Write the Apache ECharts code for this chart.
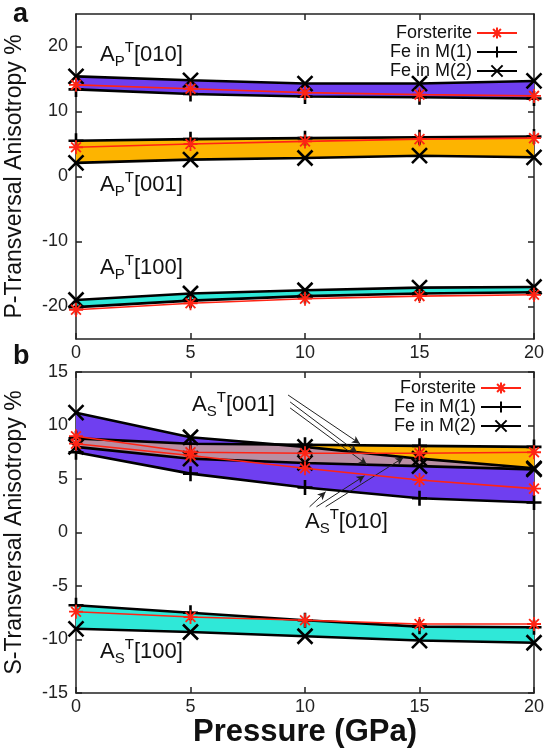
<!DOCTYPE html>
<html><head><meta charset="utf-8">
<script src="https://cdn.jsdelivr.net/npm/echarts@6/dist/echarts.min.js"></script>
<style>html,body{margin:0;padding:0;background:#fff}#c{width:548px;height:754px}</style>
</head><body><div id="c"></div>
<script>
const pressure = [0, 5, 10, 15, 20];
const xTicks = [0, 5, 10, 15, 20];
const yTicksA = [-20, -10, 0, 10, 20];
const yTicksB = [-15, -10, -5, 0, 5, 10, 15];

// Panel a: P-transversal anisotropy
const pA010_fo = [14.1, 13.5, 12.9, 12.6, 12.4];
const pA010_m1 = [13.4, 12.7, 12.3, 12.2, 12.0];
const pA010_m2 = [15.4, 14.8, 14.3, 14.3, 14.7];
const pA001_fo = [4.5, 5.0, 5.4, 5.75, 5.9];
const pA001_m1 = [5.5, 5.75, 5.9, 6.05, 6.15];
const pA001_m2 = [2.1, 2.6, 2.85, 3.2, 2.95];
const pA100_fo = [-20.5, -19.5, -18.8, -18.4, -18.2];
const pA100_m1 = [-20.1, -19.1, -18.4, -18.0, -17.8];
const pA100_m2 = [-19.0, -18.0, -17.5, -17.1, -17.0];

// Panel b: S-transversal anisotropy
const sA001_fo = [9.0, 7.5, 7.4, 7.4, 7.5];
const sA001_m1 = [8.8, 8.3, 8.2, 8.1, 8.0];
const sA001_m2 = [8.0, 6.9, 6.5, 6.2, 5.9];
const sA010_fo = [8.3, 7.2, 6.0, 4.9, 4.1];
const sA010_m1 = [7.5, 5.5, 4.2, 3.2, 2.8];
const sA010_m2 = [11.2, 8.9, 8.0, 6.9, 6.0];
const sA100_fo = [-7.4, -7.9, -8.2, -8.55, -8.55];
const sA100_m1 = [-6.8, -7.5, -8.2, -8.8, -8.85];
const sA100_m2 = [-9.0, -9.3, -9.7, -10.1, -10.3];

// annotation labels [x, y, subscript, direction]
const labelsA = [[1.05, 18.7, 'P', '[010]'], [1.05, -1.3, 'P', '[001]'], [1.05, -14.1, 'P', '[100]']];
const labelsB = [[5.07, 11.9, 'S', '[001]'], [10.0, 1.0, 'S', '[010]'], [1.05, -11.2, 'S', '[100]']];
// arrows (data coordinates)
const arrowsFrom = [[9.26, 12.85], [9.35, 12.2], [9.35, 11.64], [10.2, 2.4], [10.5, 2.4], [10.9, 2.4]];
const arrowsTo = [[12.4, 8.3], [12.27, 7.5], [12.7, 6.35], [10.9, 3.8], [12.6, 5.3], [14.3, 7.0]];

const FONT = 'Liberation Sans, Arial, Helvetica, sans-serif';
const PURPLE = '#6f3ff0', ORANGE = '#fdb400', CYAN = '#2fe8d8', MAUVE = '#b98ea2';
const RED = '#ff2414', BLACK = '#000';
const SYM_PLUS = 'path://M5,0L5,10M0,5L10,5';
const SYM_CROSS = 'path://M0,0L10,10M10,0L0,10';
const SYM_STAR = 'path://M5,0L5,10M0,5L10,5M1.5,1.5L8.5,8.5M8.5,1.5L1.5,8.5';

function band(gi, upper, lower, color, z) {
  return {
    type: 'custom', xAxisIndex: gi * 2, yAxisIndex: gi * 2, silent: true, z: z || 1,
    data: [[pressure[0], lower[0]]],
    renderItem(params, api) {
      const pts = [];
      pressure.forEach((p, i) => pts.push(api.coord([p, upper[i]])));
      for (let i = pressure.length - 1; i >= 0; i--) pts.push(api.coord([pressure[i], lower[i]]));
      return { type: 'polygon', shape: { points: pts }, style: { fill: color, stroke: 'none' } };
    }
  };
}
function overlap(gi, u1, u2, lo, color) {
  return {
    type: 'custom', xAxisIndex: gi * 2, yAxisIndex: gi * 2, silent: true, z: 2,
    data: [[pressure[0], lo[0]]],
    renderItem(params, api) {
      const top = [];
      for (let i = 0; i < pressure.length; i++) {
        top.push([pressure[i], Math.min(u1[i], u2[i])]);
        if (i < pressure.length - 1) {
          const d0 = u1[i] - u2[i], d1 = u1[i + 1] - u2[i + 1];
          if (d0 * d1 < 0) {
            const t = d0 / (d0 - d1);
            top.push([pressure[i] + t * (pressure[i + 1] - pressure[i]), u1[i] + t * (u1[i + 1] - u1[i])]);
          }
        }
      }
      const pts = top.map(p => api.coord(p));
      for (let i = pressure.length - 1; i >= 0; i--) pts.push(api.coord([pressure[i], lo[i]]));
      return { type: 'polygon', shape: { points: pts }, style: { fill: color, stroke: 'none' } };
    }
  };
}
function line(gi, name, vals) {
  const isFo = name === 'Forsterite';
  const col = isFo ? RED : BLACK;
  return {
    type: 'line', name, xAxisIndex: gi * 2, yAxisIndex: gi * 2,
    data: pressure.map((p, i) => [p, vals[i]]),
    symbol: isFo ? SYM_STAR : (name === 'Fe in M(1)' ? SYM_PLUS : SYM_CROSS),
    symbolSize: isFo ? 14 : 15, showAllSymbol: true,
    lineStyle: { color: col, width: isFo ? 1.6 : 2.6 },
    itemStyle: { color: col, borderColor: col, borderWidth: isFo ? 1.8 : 2.6 },
    z: isFo ? 5 : 4, silent: true, emphasis: { disabled: true }
  };
}
function labels(gi, arr) {
  return {
    type: 'scatter', xAxisIndex: gi * 2, yAxisIndex: gi * 2, silent: true, z: 6,
    symbol: 'circle', symbolSize: 0, itemStyle: { color: '#111', opacity: 1 },
    data: arr.map(d => ({ value: [d[0], d[1]], sub: d[2], dir: d[3] })),
    label: {
      show: true, position: 'right', distance: 0, color: '#111', opacity: 1,
      formatter: p => '{a|A}{s|' + p.data.sub + '}{t|T}{a|' + p.data.dir + '}',
      rich: {
        a: { fontSize: 22, fontFamily: FONT, color: '#111' },
        s: { fontSize: 15, fontFamily: FONT, color: '#111', padding: [14, 0, 0, 0] },
        t: { fontSize: 15, fontFamily: FONT, color: '#111', padding: [0, 0, 14, 0] }
      }
    },
    emphasis: { disabled: true }
  };
}
const axLine = { onZero: false, lineStyle: { color: '#222', width: 1.5 } };
const axTick = { inside: true, length: 6, lineStyle: { color: '#222', width: 1.5 } };
function xAx(gi, pos, nameOn) {
  const o = {
    type: 'value', gridIndex: gi, position: pos, min: 0, max: 20, interval: 5,
    axisLine: axLine, axisTick: axTick, splitLine: { show: false },
    axisLabel: { show: pos === 'bottom', fontSize: 18, fontFamily: FONT, color: '#222', margin: 5, customValues: xTicks },
  };
  if (nameOn) {
    o.name = 'Pressure (GPa)'; o.nameLocation = 'middle'; o.nameGap = 23;
    o.nameTextStyle = { fontSize: 31, fontWeight: 'bold', fontFamily: FONT, color: '#111' };
  }
  return o;
}
function yAx(gi, pos, min, max, ticks, name) {
  const o = {
    type: 'value', gridIndex: gi, position: pos, min, max,
    axisLine: axLine, axisTick: Object.assign({ customValues: ticks }, axTick), splitLine: { show: false },
    axisLabel: { show: pos === 'left', fontSize: 18, fontFamily: FONT, color: '#222', margin: 8, customValues: ticks }
  };
  if (name) {
    o.name = name; o.nameLocation = 'middle'; o.nameGap = 50;
    o.nameTextStyle = { fontSize: 23, fontFamily: FONT, color: '#111' };
  }
  return o;
}
const legendCommon = {
  orient: 'vertical', align: 'right', itemWidth: 40, itemHeight: 14, itemGap: 1,
  data: ['Forsterite', 'Fe in M(1)', 'Fe in M(2)'], selectedMode: false,
  textStyle: { fontSize: 18, fontFamily: FONT, color: '#111', lineHeight: 16 }
};
const arrowData = arrowsFrom.map((f, i) => [{ coord: f }, { coord: arrowsTo[i] }]);

const option = {
  animation: false,
  backgroundColor: '#fff',
  title: [
    { text: 'a', left: 8, top: -4, textStyle: { fontSize: 27, fontWeight: 'bold', fontFamily: FONT, color: '#111' } },
    { text: 'b', left: 8, top: 338, textStyle: { fontSize: 27, fontWeight: 'bold', fontFamily: FONT, color: '#111' } }
  ],
  grid: [
    { left: 76, top: 14, width: 458, height: 325, outerBoundsMode: 'none', containLabel: false },
    { left: 76, top: 372, width: 458, height: 321, outerBoundsMode: 'none', containLabel: false }
  ],
  legend: [
    Object.assign({ top: 19, right: 25 }, legendCommon),
    Object.assign({ top: 374, right: 21 }, legendCommon)
  ],
  xAxis: [xAx(0, 'bottom'), xAx(0, 'top'), xAx(1, 'bottom', true), xAx(1, 'top')],
  yAxis: [
    yAx(0, 'left', -25, 25, yTicksA, 'P-Transversal Anisotropy %'), yAx(0, 'right', -25, 25, yTicksA),
    yAx(1, 'left', -15, 15, yTicksB, 'S-Transversal Anisotropy %'), yAx(1, 'right', -15, 15, yTicksB)
  ],
  series: [
    band(0, pA010_m2, pA010_m1, PURPLE),
    band(0, pA001_m1, pA001_m2, ORANGE),
    band(0, pA100_m2, pA100_m1, CYAN),
    band(1, sA010_m2, sA010_m1, PURPLE),
    band(1, sA001_m1, sA001_m2, ORANGE),
    overlap(1, sA010_m2, sA001_m1, sA001_m2, MAUVE),
    band(1, sA100_m1, sA100_m2, CYAN),
    line(0, 'Forsterite', pA010_fo), line(0, 'Fe in M(1)', pA010_m1), line(0, 'Fe in M(2)', pA010_m2),
    line(0, 'Forsterite', pA001_fo), line(0, 'Fe in M(1)', pA001_m1), line(0, 'Fe in M(2)', pA001_m2),
    line(0, 'Forsterite', pA100_fo), line(0, 'Fe in M(1)', pA100_m1), line(0, 'Fe in M(2)', pA100_m2),
    line(1, 'Forsterite', sA001_fo), line(1, 'Fe in M(1)', sA001_m1), line(1, 'Fe in M(2)', sA001_m2),
    line(1, 'Forsterite', sA010_fo), line(1, 'Fe in M(1)', sA010_m1), line(1, 'Fe in M(2)', sA010_m2),
    line(1, 'Forsterite', sA100_fo), line(1, 'Fe in M(1)', sA100_m1), line(1, 'Fe in M(2)', sA100_m2),
    labels(0, labelsA), labels(1, labelsB),
    {
      type: 'line', xAxisIndex: 2, yAxisIndex: 2, data: [], silent: true, z: 7,
      markLine: {
        silent: true, symbol: ['none', 'arrow'], symbolSize: [6, 8], animation: false,
        label: { show: false }, lineStyle: { color: '#222', width: 1, type: 'solid' },
        data: arrowData
      }
    }
  ]
};
const chart = echarts.init(document.getElementById('c'), null, { renderer: 'canvas' });
chart.setOption(option);
</script></body></html>
